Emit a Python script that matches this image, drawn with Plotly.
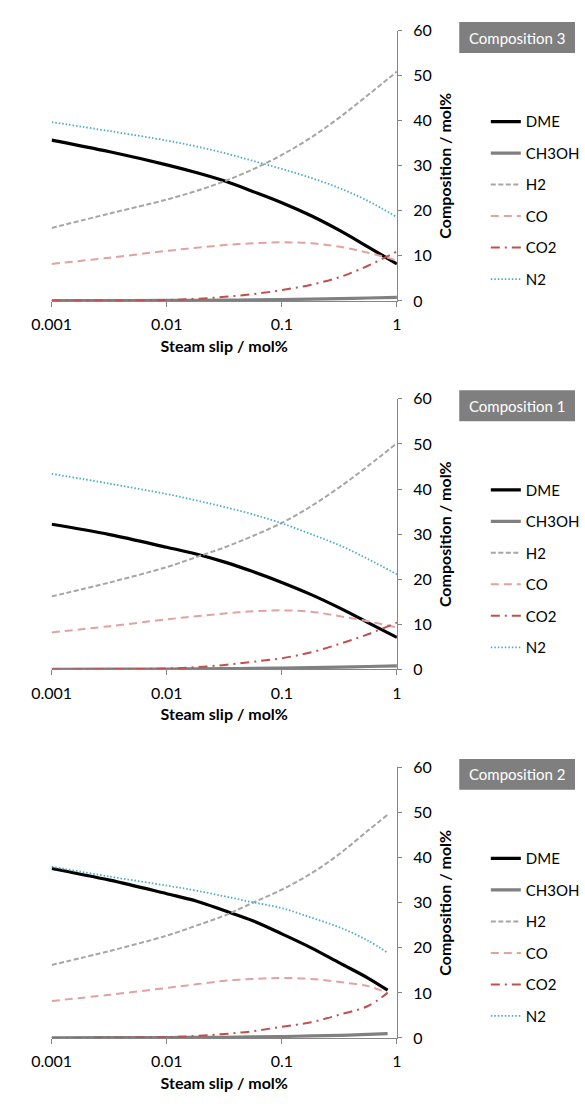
import plotly.graph_objects as go

# Steam slip (mol%) sample points
slip = [0.001, 0.0032, 0.01, 0.018, 0.032, 0.056, 0.1, 0.18, 0.32, 0.56, 1]
slip_c2 = [0.001, 0.0032, 0.01, 0.018, 0.032, 0.056, 0.1, 0.18, 0.32, 0.56, 0.83]

species = ["DME", "CH3OH", "H2", "CO", "CO2", "N2"]

# Composition 3
c3_dme = [35.7, 33.1, 30.2, 28.5, 26.6, 24.3, 21.8, 18.9, 15.6, 12.0, 8.2]
c3_ch3oh = [0.05, 0.07, 0.1, 0.13, 0.17, 0.22, 0.3, 0.4, 0.5, 0.65, 0.8]
c3_h2 = [16.2, 19.4, 22.5, 24.4, 26.6, 29.2, 32.4, 36.3, 40.8, 45.7, 50.9]
c3_co = [8.2, 9.6, 11.1, 11.8, 12.4, 12.8, 13.0, 12.8, 12.0, 10.7, 9.0]
c3_co2 = [0.0, 0.05, 0.2, 0.45, 0.9, 1.5, 2.4, 3.6, 5.3, 7.8, 11.0]
c3_n2 = [39.7, 37.7, 35.6, 34.3, 32.8, 31.1, 29.3, 27.3, 25.0, 22.2, 18.6]

# Composition 1
c1_dme = [32.2, 29.9, 27.1, 25.6, 23.8, 21.7, 19.3, 16.6, 13.6, 10.4, 7.1]
c1_ch3oh = [0.05, 0.07, 0.1, 0.13, 0.17, 0.22, 0.3, 0.4, 0.5, 0.65, 0.8]
c1_h2 = [16.2, 19.3, 22.7, 24.9, 27.1, 29.6, 32.5, 36.2, 40.5, 45.1, 50.2]
c1_co = [8.2, 9.6, 11.1, 11.8, 12.4, 12.9, 13.1, 12.8, 11.8, 10.7, 9.3]
c1_co2 = [0.0, 0.05, 0.2, 0.5, 1.0, 1.7, 2.5, 3.8, 5.7, 7.8, 10.4]
c1_n2 = [43.4, 41.2, 38.9, 37.5, 36.0, 34.4, 32.4, 30.0, 27.5, 24.5, 21.1]

# Composition 2
c2_dme = [37.6, 35.0, 32.0, 30.4, 28.2, 26.0, 23.1, 20.0, 16.6, 13.3, 10.6]
c2_ch3oh = [0.05, 0.07, 0.1, 0.13, 0.17, 0.24, 0.33, 0.45, 0.6, 0.8, 0.95]
c2_h2 = [16.2, 19.3, 22.7, 24.9, 27.2, 30.0, 32.9, 36.5, 40.9, 46.0, 49.5]
c2_co = [8.2, 9.6, 11.1, 11.9, 12.7, 13.1, 13.3, 13.1, 12.4, 11.5, 10.0]
c2_co2 = [0.0, 0.05, 0.2, 0.45, 0.9, 1.5, 2.5, 3.5, 5.2, 7.1, 10.0]
c2_n2 = [38.0, 35.8, 33.8, 32.7, 31.4, 30.1, 28.8, 26.7, 24.5, 21.6, 18.9]

panel_titles = ["Composition 3", "Composition 1", "Composition 2"]
panel_x = [slip, slip, slip_c2]
panel_data = [
    [c3_dme, c3_ch3oh, c3_h2, c3_co, c3_co2, c3_n2],
    [c1_dme, c1_ch3oh, c1_h2, c1_co, c1_co2, c1_n2],
    [c2_dme, c2_ch3oh, c2_h2, c2_co, c2_co2, c2_n2],
]

x_ticks = [0.001, 0.01, 0.1, 1]
x_ticktext = ["0.001", "0.01", "0.1", "1"]
y_ticks = [0, 10, 20, 30, 40, 50, 60]

line_styles = {
    "DME": dict(color="#000000", width=3.2, dash="solid"),
    "CH3OH": dict(color="#808080", width=3.2, dash="solid"),
    "H2": dict(color="#a6a6a6", width=2, dash="5px,2.5px"),
    "CO": dict(color="#e0a3a1", width=2, dash="8px,5px"),
    "CO2": dict(color="#c0504d", width=2, dash="9px,5px,2px,5px"),
    "N2": dict(color="#4bacc6", width=1.8, dash="1.5px,2px"),
}

W, H = 585, 1104
FONT = "Lato, Carlito, 'Open Sans', sans-serif"
AXIS_GREY = "#868686"

# plot-area pixel extents: x from 0.001 to 1, y from 60 (top) to 0 (bottom)
x_left, x_right = 33.3, 397.3
panel_px = [(21.0, 296.0), (395.7, 671.0), (770.7, 1046.0)]

# title badge in the top-right corner of each panel
badge_left = 463
badge_above = 8.7
badge_h = 31.4

fig = go.Figure()
layout = dict(
    width=W,
    height=H,
    margin=dict(l=0, r=0, t=0, b=0),
    paper_bgcolor="white",
    plot_bgcolor="white",
    font=dict(family=FONT, size=16, color="#000000"),
    annotations=[],
    shapes=[],
)

for i in range(3):
    n = i + 1
    xa = "x" if n == 1 else f"x{n}"
    ya = "y" if n == 1 else f"y{n}"
    lg = "legend" if n == 1 else f"legend{n}"
    top, bot = panel_px[i]

    for name, vals in zip(species, panel_data[i]):
        fig.add_trace(go.Scatter(
            x=panel_x[i], y=vals, name=name, mode="lines",
            line=dict(shape="spline", smoothing=1.0, **line_styles[name]),
            xaxis=xa, yaxis=ya, legend=lg, legendgroup=f"{lg}_{name}",
        ))

    layout[f"xaxis{'' if n == 1 else n}"] = dict(
        domain=[x_left / W, x_right / W], anchor=ya,
        type="log", range=[-3, 0],
        tickvals=x_ticks, ticktext=x_ticktext,
        showline=True, linecolor=AXIS_GREY, linewidth=1,
        ticks="outside", ticklen=5, tickcolor=AXIS_GREY,
        showgrid=False, zeroline=False,
        tickfont=dict(size=16),
        ticklabelstandoff=4,
        title=dict(text="<b>Steam slip / mol%</b>", font=dict(size=16), standoff=8),
    )
    layout[f"yaxis{'' if n == 1 else n}"] = dict(
        domain=[1 - bot / H, 1 - top / H], anchor=xa, side="right",
        range=[0, 60], tickvals=y_ticks,
        showline=True, linecolor=AXIS_GREY, linewidth=1,
        ticks="outside", ticklen=4, tickcolor=AXIS_GREY,
        showgrid=False, zeroline=False,
        tickfont=dict(size=16),
        ticklabelstandoff=8,
        title=dict(text="<b>Composition / mol%</b>", font=dict(size=16), standoff=9),
    )
    layout[lg] = dict(
        x=491 / W, xanchor="left",
        y=1 - (top + 76) / H, yanchor="top",
        bgcolor="rgba(0,0,0,0)", borderwidth=0,
        traceorder="grouped", tracegroupgap=9,
        font=dict(size=15),
    )

    b_top = top - badge_above
    b_bot = b_top + badge_h
    layout["shapes"].append(dict(
        type="rect", xref="paper", yref="paper",
        x0=badge_left / W, x1=1.0,
        y0=1 - b_bot / H, y1=1 - b_top / H,
        fillcolor="#7f7f7f", line=dict(width=0), layer="above",
    ))
    layout["annotations"].append(dict(
        text=panel_titles[i], xref="paper", yref="paper",
        x=(badge_left + W) / 2 / W, y=1 - (b_top + badge_h / 2) / H,
        xanchor="center", yanchor="middle",
        showarrow=False,
        font=dict(family=FONT, size=15, color="#ffffff"),
    ))

fig.update_layout(**layout)

# page without the default body margin so the figure fills the window exactly
page_css = "document.body.style.margin='0';document.body.style.overflow='hidden';"
fig.write_html("out.html", post_script=page_css)
